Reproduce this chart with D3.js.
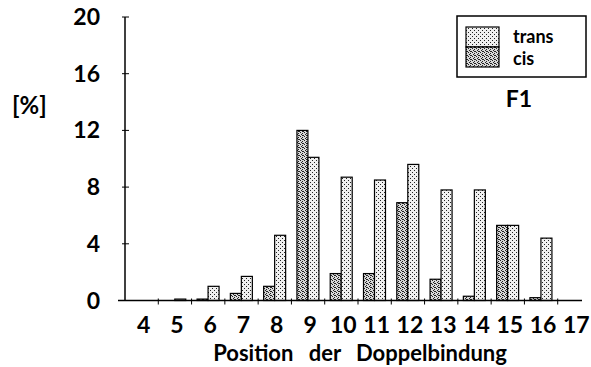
<!DOCTYPE html>
<html><head><meta charset="utf-8">
<script src="https://cdn.jsdelivr.net/npm/d3@7"></script>
<style>body{margin:0;background:#fff}text{font-family:Lato,"Noto Sans",sans-serif;fill:#000}</style>
</head><body><svg id="c" width="591" height="367"></svg>
<script>
const positions = [4,5,6,7,8,9,10,11,12,13,14,15,16,17];
const cisValues   = [0, 0,   0.1, 0.5, 1.0, 12.0, 1.9, 1.9, 6.9, 1.5, 0.3, 5.3, 0.2, 0];
const transValues = [0, 0.1, 1.0, 1.7, 4.6, 10.1, 8.7, 8.5, 9.6, 7.8, 7.8, 5.3, 4.4, 0];
const yTicks = [0,4,8,12,16,20];
const seriesNames = ["trans","cis"];

const svg = d3.select("#c");
const defs = svg.append("defs");
function stipple(id, bg, dots){
  const p = defs.append("pattern").attr("id",id).attr("patternUnits","userSpaceOnUse")
    .attr("width",4).attr("height",4);
  p.append("rect").attr("width",4).attr("height",4).attr("fill",bg);
  dots.forEach(d=>p.append("rect").attr("x",d[0]).attr("y",d[1]).attr("width",1).attr("height",1).attr("fill","#222"));
}
stipple("pLight","#f0f0f0",[[0,0],[2,2]]);
stipple("pDense","#d8d8d8",[[0,0],[2,1],[1,2],[3,3],[2,3]]);

const x = d3.scaleBand().domain(positions).range([125,591]).paddingInner(0).paddingOuter(0);
const y = d3.scaleLinear().domain([0,20]).range([300.5,17]);
const bw = 11;

const g = svg.append("g");
positions.forEach((p,i)=>{
  const x0 = x(p);
  const c = cisValues[i], t = transValues[i];
  if (c>0) g.append("rect").attr("x",x0+5.5).attr("y",y(c)).attr("width",bw).attr("height",y(0)-y(c))
    .attr("fill","url(#pDense)").attr("stroke","#000").attr("stroke-width",1.2);
  if (t>0) g.append("rect").attr("x",x0+5.5+bw).attr("y",y(t)).attr("width",bw).attr("height",y(0)-y(t))
    .attr("fill","url(#pLight)").attr("stroke","#000").attr("stroke-width",1.2);
});

// y axis
const ya = svg.append("g");
ya.append("line").attr("x1",125).attr("x2",125).attr("y1",y(20)).attr("y2",y(0)).attr("stroke","#000").attr("stroke-width",1.5);
yTicks.forEach(v=>{
  ya.append("line").attr("x1",122).attr("x2",129).attr("y1",y(v)).attr("y2",y(v)).attr("stroke","#000").attr("stroke-width",1);
  ya.append("text").attr("x",100).attr("y",y(v)+8).attr("text-anchor","end").attr("font-size",23).attr("font-weight",700).text(v);
});
svg.append("text").attr("x",12).attr("y",114).attr("font-size",24).attr("font-weight",700).text("[%]");

// x axis
const xa = svg.append("g");
xa.append("line").attr("x1",118).attr("x2",582).attr("y1",y(0)).attr("y2",y(0)).attr("stroke","#000").attr("stroke-width",1.5);
positions.forEach(p=>{
  if (p>4) xa.append("line").attr("x1",x(p)).attr("x2",x(p)).attr("y1",y(0)-2).attr("y2",y(0)+4).attr("stroke","#000").attr("stroke-width",1);
  xa.append("text").attr("x",x(p)+x.bandwidth()/2+2).attr("y",333).attr("text-anchor","middle").attr("font-size",23).attr("font-weight",700).text(p);
});
svg.append("text").attr("x",360).attr("y",361).attr("text-anchor","middle").attr("font-size",22)
  .attr("font-weight",700).attr("word-spacing",10).text("Position der Doppelbindung");

// legend
const lg = svg.append("g");
lg.append("rect").attr("x",457).attr("y",16).attr("width",129).attr("height",61).attr("fill","none").attr("stroke","#000").attr("stroke-width",1.5);
const fills = ["url(#pLight)","url(#pDense)"];
seriesNames.forEach((n,i)=>{
  lg.append("rect").attr("x",466).attr("y",27+i*20).attr("width",33).attr("height",20).attr("fill",fills[i]).attr("stroke","#000").attr("stroke-width",1.2);
  lg.append("text").attr("x",513).attr("y",43+i*22).attr("font-size",18).attr("font-weight",700).text(n);
});
svg.append("text").attr("x",519).attr("y",107).attr("text-anchor","middle").attr("font-size",23).attr("font-weight",700).text("F1");
</script></body></html>
